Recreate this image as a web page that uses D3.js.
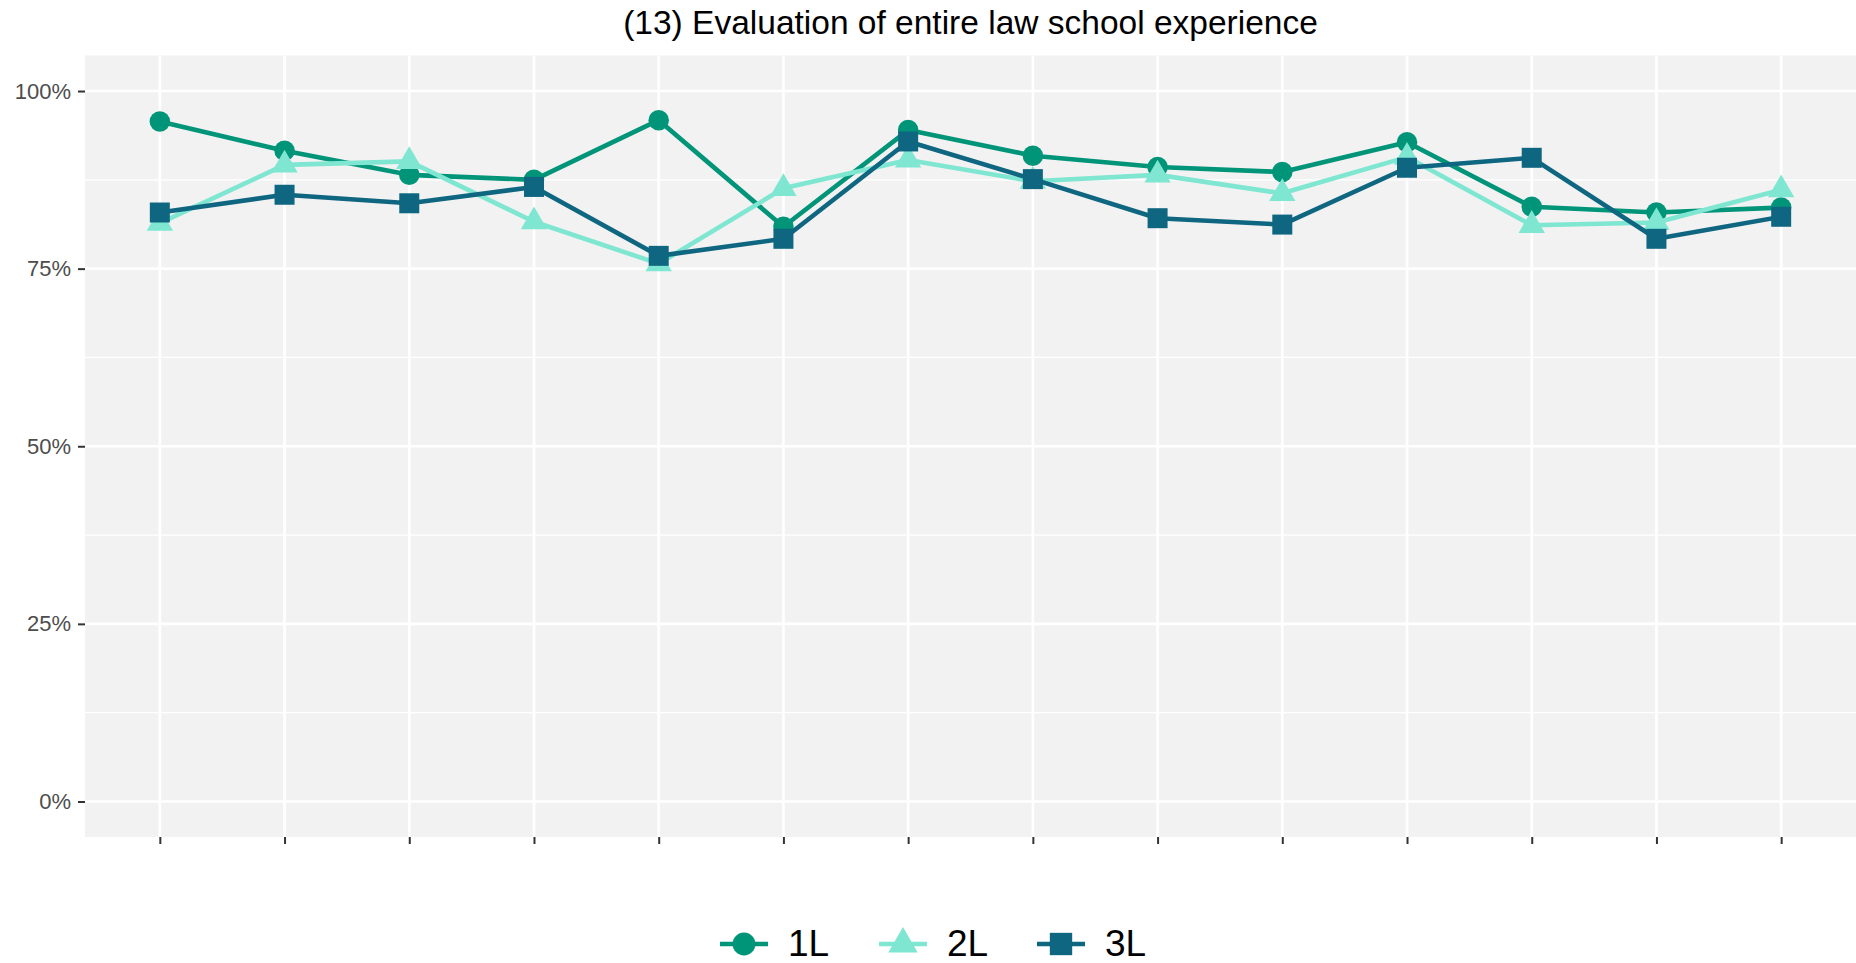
<!DOCTYPE html>
<html>
<head>
<meta charset="utf-8">
<script src="https://cdn.jsdelivr.net/npm/d3@7"></script>
<style>
  body { margin: 0; background: #fff; }
  text { font-family: "Liberation Sans", Arial, sans-serif; }
</style>
</head>
<body>
<svg id="chart" width="1856" height="963"></svg>
<script>
// survey items (no axis labels in the original)
var categories = ["q1", "q2", "q3", "q4", "q5", "q6", "q7", "q8", "q9", "q10", "q11", "q12", "q13", "q14"];
var values1L = [0.957, 0.916, 0.882, 0.875, 0.959, 0.809, 0.945, 0.909, 0.893, 0.886, 0.928, 0.837, 0.829, 0.836];
var values2L = [0.814, 0.896, 0.901, 0.816, 0.757, 0.863, 0.903, 0.873, 0.882, 0.856, 0.907, 0.811, 0.815, 0.861];
var values3L = [0.829, 0.854, 0.842, 0.865, 0.768, 0.792, 0.929, 0.876, 0.821, 0.812, 0.892, 0.906, 0.792, 0.823];
var yTicks = [0, 0.25, 0.5, 0.75, 1];
var yMinor = [0.125, 0.375, 0.625, 0.875];
var seriesNames = ["1L", "2L", "3L"];
var seriesColors = ["#009479", "#7ee6d1", "#0e6680"];

var series = [
    {name: seriesNames[0], color: seriesColors[0], shape: d3.symbolCircle, size: 330, values: values1L},
    {name: seriesNames[1], color: seriesColors[1], shape: d3.symbolTriangle, size: 300, values: values2L},
    {name: seriesNames[2], color: seriesColors[2], shape: d3.symbolSquare, size: 400, values: values3L}
];

var svg = d3.select("#chart");
var panel = {left: 85, right: 1856, top: 55.5, bottom: 837};

var x = d3.scalePoint()
    .domain(categories)
    .range([panel.left, panel.right])
    .padding(0.6);

var y = d3.scaleLinear()
    .domain([-0.05, 1.05])
    .range([panel.bottom, panel.top]);

// panel background
svg.append("rect")
    .attr("x", panel.left)
    .attr("y", panel.top)
    .attr("width", panel.right - panel.left)
    .attr("height", panel.bottom - panel.top)
    .style("fill", "#f2f2f2");

// grid
var grid = svg.append("g");
grid.selectAll(".minor").data(yMinor).enter().append("line")
    .attr("x1", panel.left).attr("x2", panel.right)
    .attr("y1", function (d) { return y(d); })
    .attr("y2", function (d) { return y(d); })
    .style("stroke", "#fff").style("stroke-width", 1.3);
grid.selectAll(".major").data(yTicks).enter().append("line")
    .attr("x1", panel.left).attr("x2", panel.right)
    .attr("y1", function (d) { return y(d); })
    .attr("y2", function (d) { return y(d); })
    .style("stroke", "#fff").style("stroke-width", 2.7);
grid.selectAll(".vert").data(categories).enter().append("line")
    .attr("x1", function (d) { return x(d); })
    .attr("x2", function (d) { return x(d); })
    .attr("y1", panel.top).attr("y2", panel.bottom)
    .style("stroke", "#fff").style("stroke-width", 2.7);

// axes
var yAxis = svg.append("g")
    .attr("transform", "translate(" + panel.left + ",0)")
    .call(d3.axisLeft(y).tickValues(yTicks).tickFormat(d3.format(".0%")).tickSize(7).tickPadding(7));
yAxis.select(".domain").remove();
yAxis.selectAll(".tick line").style("stroke", "#333").style("stroke-width", 2);
yAxis.selectAll(".tick text").style("fill", "#4d4d4d").style("font-size", "22px")
    .style("font-family", "'Liberation Sans', Arial, sans-serif");

var xAxis = svg.append("g")
    .attr("transform", "translate(0," + panel.bottom + ")")
    .call(d3.axisBottom(x).tickSize(7).tickFormat(""));
xAxis.select(".domain").remove();
xAxis.selectAll(".tick line").style("stroke", "#333").style("stroke-width", 2);

// lines and points
var line = d3.line()
    .x(function (d, i) { return x(categories[i]); })
    .y(function (d) { return y(d); });

series.forEach(function (s) {
    var g = svg.append("g").attr("class", "series");
    g.append("path")
        .datum(s.values)
        .attr("d", line)
        .style("fill", "none")
        .style("stroke", s.color)
        .style("stroke-width", 4.6)
        .style("stroke-linejoin", "round");
    g.selectAll("path.pt").data(s.values).enter().append("path")
        .attr("class", "pt")
        .attr("d", d3.symbol().type(s.shape).size(s.size))
        .attr("transform", function (d, i) {
            return "translate(" + x(categories[i]) + "," + y(d) + ")";
        })
        .style("fill", s.color);
});

// title
svg.append("text")
    .attr("x", (panel.left + panel.right) / 2)
    .attr("y", 34)
    .attr("text-anchor", "middle")
    .style("font-size", "33.5px")
    .style("fill", "#000")
    .text("(13) Evaluation of entire law school experience");

// legend
var legendX = [744, 903, 1061];
var legend = svg.selectAll(".legend").data(series).enter().append("g")
    .attr("class", "legend")
    .attr("transform", function (d, i) { return "translate(" + legendX[i] + ",944)"; });
legend.append("line")
    .attr("x1", -24).attr("x2", 24)
    .style("stroke", function (d) { return d.color; })
    .style("stroke-width", 4.6);
legend.append("path")
    .attr("d", function (d) { return d3.symbol().type(d.shape).size(d.size * 1.25)(); })
    .style("fill", function (d) { return d.color; });
legend.append("text")
    .attr("x", 44)
    .attr("y", 12)
    .style("font-size", "37px")
    .text(function (d) { return d.name; });
</script>
</body>
</html>
